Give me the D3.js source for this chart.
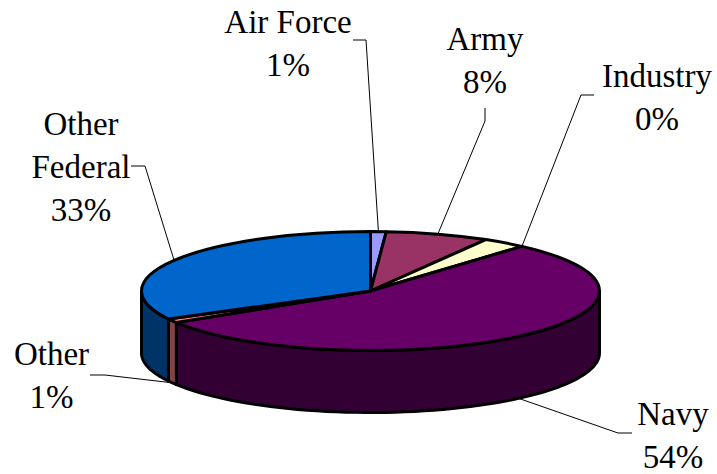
<!DOCTYPE html>
<html>
<head>
<meta charset="utf-8">
<script src="https://cdn.jsdelivr.net/npm/d3@7"></script>
<style>
  html, body { margin: 0; padding: 0; background: #fff; }
  text { font-family: "Liberation Serif", serif; font-size: 33px; fill: #000; }
</style>
</head>
<body>
<div id="chart-root"></div>
<script>
// data, clockwise from 12 o'clock
var names = [["Air Force"], ["Army"], ["Industry"], ["Navy"], ["Other"], ["Other", "Federal"]];
var percentLabels = ["1%", "8%", "0%", "54%", "1%", "33%"];
// drawn share of each slice (the printed labels are rounded, Industry prints 0%)
var shares = [1.1, 7.3, 3.1, 54.6, 1.1, 32.8];
var topColors = ["#9999ff", "#993366", "#ffffcc", "#660066", "#ff8080", "#0066cc"];
var wallColors = ["#4c4c80", "#4c1933", "#808066", "#330033", "#804444", "#003366"];

var width = 717, height = 474;
var cx = 370.5, cy = 291, rx = 229, ry = 59.5, depth = 62;

// label block centres (x, y of first baseline) and leader elbows
var labelPos = [[288, 33], [485, 50], [657, 87], [673, 425], [51.5, 365], [81, 135]];
var elbows = [[[353, 40], [366, 40]], [[485, 108], [485, 121]], [[594, 95], [581, 95]],
              [[632, 433], [618, 433]], [[90, 375], [105, 375]], [[131, 166], [145, 166]]];
// where along the slice rim each leader lands, 0 start to 1 end
var leaderAt = [0.5, 0.5, 1, 0.5, 0.5, 0.5];

var svg = d3.select("#chart-root").append("svg")
    .attr("width", width)
    .attr("height", height);

var pie = d3.pie().sort(null).value(function (d) { return d; });
var slices = pie(shares);

var arc = d3.arc().innerRadius(0).outerRadius(rx);
var line = d3.line();

// point on the rim for a pie angle
function rim(a, dy) {
    return [cx + rx * Math.sin(a), cy - ry * Math.cos(a) + (dy || 0)];
}

// side walls, only the front half of the rim shows
var wall = svg.append("g").attr("class", "walls");
slices.forEach(function (s, i) {
    var a0 = Math.max(s.startAngle, Math.PI / 2),
        a1 = Math.min(s.endAngle, Math.PI * 1.5);
    if (a1 <= a0) return;
    var steps = d3.range(0, 61).map(function (k) { return a0 + (a1 - a0) * k / 60; });
    var pts = steps.map(function (a) { return rim(a, 0); })
        .concat(steps.slice().reverse().map(function (a) { return rim(a, depth); }));
    wall.append("path")
        .attr("d", line(pts) + "Z")
        .attr("fill", wallColors[i])
        .attr("stroke", "#000")
        .attr("stroke-width", 3)
        .attr("stroke-linejoin", "round");
});

// top face, circle arcs squashed into the ellipse
svg.append("g")
    .attr("class", "top")
    .attr("transform", "translate(" + cx + "," + cy + ") scale(1," + (ry / rx) + ")")
    .selectAll("path")
    .data(slices)
    .enter().append("path")
    .attr("d", arc)
    .attr("fill", function (d, i) { return topColors[i]; })
    .attr("stroke", "#000")
    .attr("stroke-width", 3)
    .attr("stroke-linejoin", "round")
    .attr("vector-effect", "non-scaling-stroke");

// leader lines from each slice rim
svg.append("g")
    .attr("class", "leaders")
    .selectAll("path")
    .data(slices)
    .enter().append("path")
    .attr("d", function (d, i) {
        var a = d.startAngle + (d.endAngle - d.startAngle) * leaderAt[i];
        var front = a > Math.PI / 2 && a < Math.PI * 1.5;
        return line(elbows[i].concat([rim(a, front ? depth : 0)]));
    })
    .attr("fill", "none")
    .attr("stroke", "#000")
    .attr("stroke-width", 1);

// data labels
var labels = svg.append("g").attr("class", "labels")
    .selectAll("text")
    .data(slices)
    .enter().append("text")
    .attr("text-anchor", "middle")
    .attr("x", function (d, i) { return labelPos[i][0]; })
    .attr("y", function (d, i) { return labelPos[i][1]; });

labels.each(function (d, i) {
    var t = d3.select(this);
    names[i].concat([percentLabels[i]]).forEach(function (row, k) {
        t.append("tspan")
            .attr("x", labelPos[i][0])
            .attr("dy", k === 0 ? 0 : 43)
            .text(row);
    });
});
</script>
</body>
</html>
